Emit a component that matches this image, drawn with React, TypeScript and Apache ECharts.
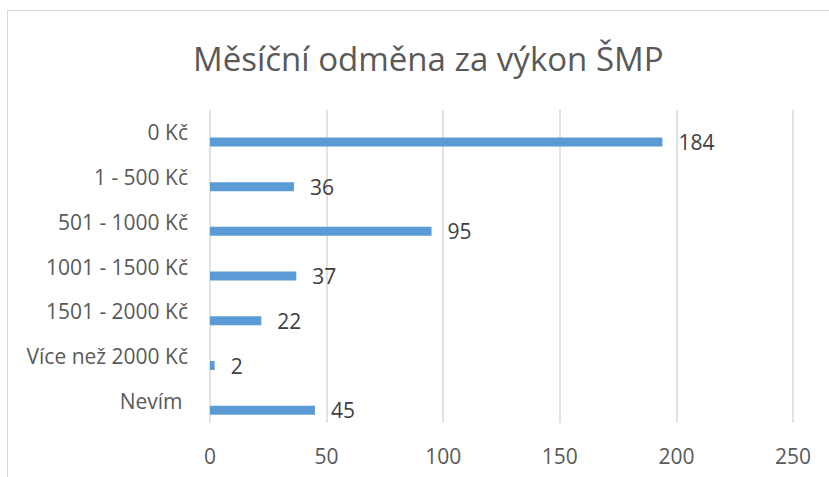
import React, { useEffect, useRef } from "react";
import * as echarts from "echarts";

const title = "Měsíční odměna za výkon ŠMP";
const categories = [
  "0 Kč",
  "1 - 500 Kč",
  "501 - 1000 Kč",
  "1001 - 1500 Kč",
  "1501 - 2000 Kč",
  "Více než 2000 Kč",
  "Nevím ",
];
// bar lengths as drawn
const barValues = [194, 36, 95, 37, 22, 2, 45];
// data labels as printed
const barLabels = ["184", "36", "95", "37", "22", "2", "45"];
const xTicks = { min: 0, max: 250, interval: 50 };

const FONT = "'Open Sans', 'Noto Sans', sans-serif";

export default function App() {
  const ref = useRef<HTMLDivElement>(null);
  useEffect(() => {
    if (!ref.current) return;
    const chart = echarts.init(ref.current, undefined, { renderer: "svg" });
    chart.setOption({
      animation: false,
      backgroundColor: "#ffffff",
      textStyle: { fontFamily: FONT },
      title: {
        text: title,
        left: 188,
        top: 37,
        textStyle: {
          fontFamily: FONT,
          fontSize: 33,
          fontWeight: "normal",
          color: "#595959",
        },
      },
      graphic: [
        {
          type: "rect",
          shape: { x: 7.5, y: 10.5, width: 900, height: 600 },
          style: { fill: "none", stroke: "#d9d9d9", lineWidth: 1 },
          silent: true,
        },
      ],
      grid: { left: 210, right: 36, top: 110, bottom: 54, containLabel: false },
      xAxis: {
        type: "value",
        min: xTicks.min,
        max: xTicks.max,
        interval: xTicks.interval,
        axisLine: { show: false },
        axisTick: { show: false },
        splitLine: { show: true, lineStyle: { color: "#d9d9d9", width: 1.5 } },
        axisLabel: {
          color: "#595959",
          fontSize: 21,
          fontFamily: FONT,
          margin: 22,
        },
      },
      yAxis: {
        type: "category",
        data: categories,
        inverse: true,
        axisLine: { show: false },
        axisTick: { show: false },
        splitLine: { show: false },
        axisLabel: {
          color: "#595959",
          fontSize: 21,
          fontFamily: FONT,
          margin: 22,
        },
      },
      series: [
        {
          type: "bar",
          name: "empty",
          data: categories.map(() => null),
          barWidth: 9,
          barGap: "113%",
          itemStyle: { color: "#5b9bd5" },
        },
        {
          type: "bar",
          name: "Odměna",
          data: barValues,
          barWidth: 9,
          barGap: "113%",
          itemStyle: { color: "#5b9bd5" },
          label: {
            show: true,
            position: "right",
            distance: 16,
            color: "#404040",
            fontSize: 21,
            fontFamily: FONT,
            formatter: (p: any) => barLabels[p.dataIndex],
          },
        },
      ],
    });
    return () => chart.dispose();
  }, []);
  return (
    <div
      ref={ref}
      style={{ position: "fixed", left: 0, top: 0, width: 829, height: 477 }}
    />
  );
}
